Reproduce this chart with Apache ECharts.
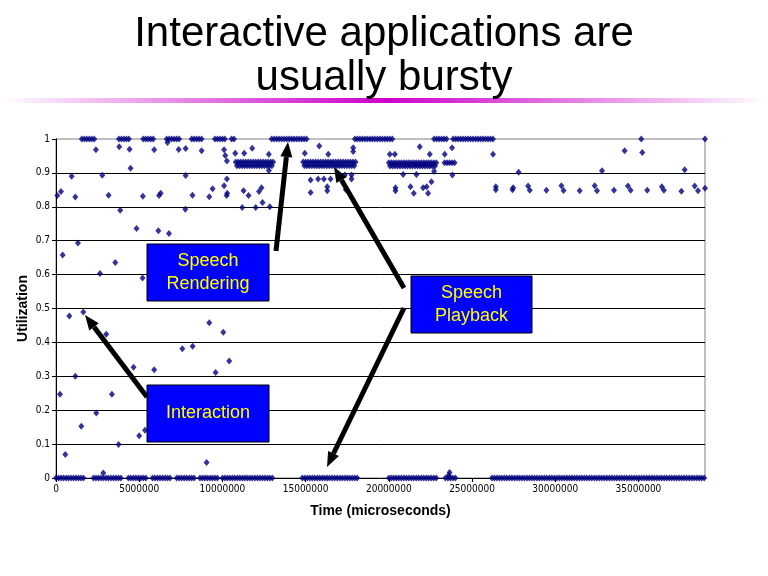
<!DOCTYPE html>
<html>
<head>
<meta charset="utf-8">
<script src="https://cdn.jsdelivr.net/npm/echarts@6/dist/echarts.min.js"></script>
<style>
  html, body { margin: 0; padding: 0; background: #fff; }
  #main { width: 768px; height: 576px; }
</style>
</head>
<body>
<div id="main"></div>
<script>
// time between samples inside the dense stretches (microseconds)
const sampleStep = 150000;

// dense stretches: [start, end, utilization]
const idleRuns = [
  [0, 1700000, 0], [2250000, 3900000, 0], [4350000, 5450000, 0],
  [5800000, 6900000, 0], [7250000, 8300000, 0], [8650000, 9700000, 0],
  [10000000, 13000000, 0], [14800000, 18100000, 0], [20000000, 22900000, 0],
  [23400000, 24000000, 0], [26200000, 39000000, 0]
];
const renderingRuns = [
  [1550000, 2420000, 1], [3780000, 4500000, 1], [5240000, 5950000, 1],
  [6650000, 7500000, 1], [8150000, 8800000, 1], [9550000, 10200000, 1],
  [10550000, 10800000, 1], [12960000, 15100000, 1], [17960000, 20220000, 1],
  [22720000, 23500000, 1], [23860000, 26300000, 1]
];
const playbackRuns = [
  [10800000, 13100000, 0.932], [10875000, 13025000, 0.921],
  [14850000, 18100000, 0.932], [14925000, 18025000, 0.921],
  [20000000, 22900000, 0.930], [20075000, 22825000, 0.920],
  [23350000, 24000000, 0.930]
];

// isolated samples: [time, utilization]
const scattered = [
  [80000, 0.833], [300000, 0.845], [400000, 0.658], [800000, 0.478], [940000, 0.89],
  [1160000, 0.829], [1320000, 0.693], [1640000, 0.49], [240000, 0.247], [560000, 0.069],
  [1160000, 0.30], [1520000, 0.153], [2400000, 0.968], [2640000, 0.603], [2780000, 0.893],
  [3160000, 0.834], [3560000, 0.636], [3800000, 0.977], [3860000, 0.79], [2420000, 0.192],
  [2840000, 0.015], [3020000, 0.424], [3360000, 0.247], [3760000, 0.099], [4420000, 0.97],
  [4480000, 0.914], [4840000, 0.736], [5220000, 0.831], [5200000, 0.59], [4660000, 0.327],
  [5000000, 0.125], [5350000, 0.141], [5900000, 0.319], [5900000, 0.968], [6190000, 0.833],
  [6290000, 0.84], [6150000, 0.729], [6790000, 0.721], [6700000, 0.99], [7370000, 0.969],
  [7790000, 0.972], [7790000, 0.892], [7770000, 0.793], [8200000, 0.834], [8750000, 0.965],
  [7590000, 0.381], [8210000, 0.389], [9210000, 0.83], [9410000, 0.853], [9210000, 0.458],
  [9050000, 0.046], [9590000, 0.311], [10050000, 0.43], [10410000, 0.345], [10100000, 0.968],
  [10170000, 0.951], [10270000, 0.935], [10100000, 0.862], [10270000, 0.882], [10290000, 0.84],
  [10250000, 0.833], [10770000, 0.958], [11270000, 0.847], [11190000, 0.798], [11310000, 0.958],
  [11570000, 0.833], [11790000, 0.973], [12000000, 0.798], [12200000, 0.845], [12350000, 0.856],
  [12410000, 0.813], [12850000, 0.80], [12790000, 0.955], [12790000, 0.907], [14950000, 0.958],
  [15820000, 0.979], [16360000, 0.955], [17860000, 0.974], [17860000, 0.963], [15300000, 0.879],
  [15750000, 0.882], [16100000, 0.882], [16500000, 0.882], [15300000, 0.842], [16300000, 0.859],
  [16300000, 0.847], [17360000, 0.894], [17760000, 0.894], [17760000, 0.882], [17420000, 0.85],
  [20060000, 0.955], [20360000, 0.955], [21860000, 0.977], [22460000, 0.955], [23360000, 0.955],
  [23800000, 0.974], [20860000, 0.895], [21660000, 0.895], [22720000, 0.905], [23820000, 0.894],
  [20400000, 0.856], [20400000, 0.847], [21300000, 0.859], [21500000, 0.84], [22060000, 0.856],
  [22270000, 0.859], [22360000, 0.84], [22560000, 0.874], [23600000, 0.008], [23650000, 0.016],
  [26260000, 0.955], [26430000, 0.859], [26430000, 0.85], [27430000, 0.85], [27470000, 0.856],
  [27800000, 0.902], [28370000, 0.861], [28470000, 0.849], [29470000, 0.849], [30370000, 0.862],
  [30500000, 0.848], [31470000, 0.847], [32370000, 0.862], [32510000, 0.847], [32810000, 0.906],
  [33530000, 0.849], [34170000, 0.965], [34370000, 0.861], [34530000, 0.849], [35170000, 1.0],
  [35230000, 0.96], [35530000, 0.849], [36410000, 0.859], [36530000, 0.849], [37580000, 0.846],
  [37780000, 0.909], [38380000, 0.861], [38580000, 0.847], [39000000, 1.0], [39000000, 0.855]
];

const timeMax = 39000000;
const timeStep = 5000000;

function expandRuns(runs) {
  const out = [];
  runs.forEach(function (r) {
    for (let t = r[0]; t <= r[1]; t += sampleStep) out.push([t, r[2]]);
  });
  return out;
}

const points = []
  .concat(expandRuns(idleRuns))
  .concat(expandRuns(renderingRuns))
  .concat(expandRuns(playbackRuns))
  .concat(scattered);

// annotation boxes and arrows (pixels)
const boxes = [
  { x: 147, y: 244, w: 122, h: 57, text: 'Speech\nRendering' },
  { x: 147, y: 385, w: 122, h: 57, text: 'Interaction' },
  { x: 411, y: 276, w: 121, h: 57, text: 'Speech\nPlayback' }
];
const arrows = [
  [147, 397, 85, 315],
  [276, 251, 288, 142],
  [404, 288, 334, 167],
  [404, 308, 327, 467]
];

function arrowShapes(a) {
  const x1 = a[0], y1 = a[1], x2 = a[2], y2 = a[3];
  const len = Math.hypot(x2 - x1, y2 - y1);
  const ux = (x2 - x1) / len, uy = (y2 - y1) / len;
  const hl = 15, hw = 6;
  const bx = x2 - ux * hl, by = y2 - uy * hl;
  return [
    { type: 'line', z: 100, shape: { x1: x1, y1: y1, x2: bx, y2: by },
      style: { stroke: '#000', lineWidth: 5 } },
    { type: 'polygon', z: 100,
      shape: { points: [[x2, y2], [bx - uy * hw, by + ux * hw], [bx + uy * hw, by - ux * hw]] },
      style: { fill: '#000' } }
  ];
}

const graphics = [
  { type: 'rect', z: 1, shape: { x: 0, y: 98, width: 768, height: 5 },
    style: { fill: new echarts.graphic.LinearGradient(0, 0, 1, 0, [
      { offset: 0, color: '#ffffff' },
      { offset: 0.5, color: '#cc00cc' },
      { offset: 1, color: '#ffffff' }
    ]) } }
];
boxes.forEach(function (b) {
  graphics.push({ type: 'rect', z: 100, shape: { x: b.x, y: b.y, width: b.w, height: b.h },
    style: { fill: '#0000ff', stroke: '#000', lineWidth: 1 } });
  graphics.push({ type: 'text', z: 101, x: b.x + b.w / 2, y: b.y + b.h / 2,
    style: { text: b.text, fill: '#ffff00', fontSize: 18, fontFamily: 'Liberation Sans',
      textAlign: 'center', textVerticalAlign: 'middle', lineHeight: 23 } });
});
arrows.forEach(function (a) { arrowShapes(a).forEach(function (g) { graphics.push(g); }); });

const chart = echarts.init(document.getElementById('main'));
const tickFont = "'Liberation Sans Narrow', 'DejaVu Sans Condensed', sans-serif";

chart.setOption({
  animation: false,
  backgroundColor: '#ffffff',
  title: {
    text: 'Interactive applications are\nusually bursty',
    left: 'center',
    top: 7,
    textStyle: { fontSize: 42, fontWeight: 'normal', fontFamily: 'Liberation Sans',
      color: '#000', lineHeight: 44 }
  },
  grid: { left: 56, right: 63, top: 139, bottom: 98, show: true,
    borderColor: '#808080', borderWidth: 1 },
  xAxis: {
    type: 'value', min: 0, max: timeMax, interval: timeStep,
    name: 'Time (microseconds)', nameLocation: 'middle', nameGap: 26,
    nameTextStyle: { fontSize: 14, fontWeight: 'bold', fontFamily: 'Liberation Sans', color: '#000' },
    axisLine: { lineStyle: { color: '#000', width: 1 } },
    axisTick: { show: true, length: 4, lineStyle: { color: '#000' } },
    axisLabel: { showMaxLabel: false, fontSize: 10, fontFamily: tickFont, color: '#000', margin: 6,
      formatter: function (v) { return String(v); } },
    splitLine: { show: false }
  },
  yAxis: {
    type: 'value', min: 0, max: 1, interval: 0.1,
    name: 'Utilization', nameLocation: 'middle', nameGap: 26, nameRotate: 90,
    nameMoveOverlap: false,
    nameTextStyle: { fontSize: 14, fontWeight: 'bold', fontFamily: 'Liberation Sans', color: '#000' },
    axisLine: { show: true, lineStyle: { color: '#000', width: 1 } },
    axisTick: { show: true, length: 4, lineStyle: { color: '#000' } },
    axisLabel: { fontSize: 10, fontFamily: tickFont, color: '#000', margin: 6 },
    splitLine: { show: true, showMinLine: false, showMaxLine: false,
      lineStyle: { color: '#000', width: 1 } }
  },
  series: [{
    type: 'scatter',
    data: points,
    symbol: 'diamond',
    symbolSize: [6, 7],
    itemStyle: { color: '#000080' },
    clip: false
  }],
  graphic: graphics
});
</script>
</body>
</html>
